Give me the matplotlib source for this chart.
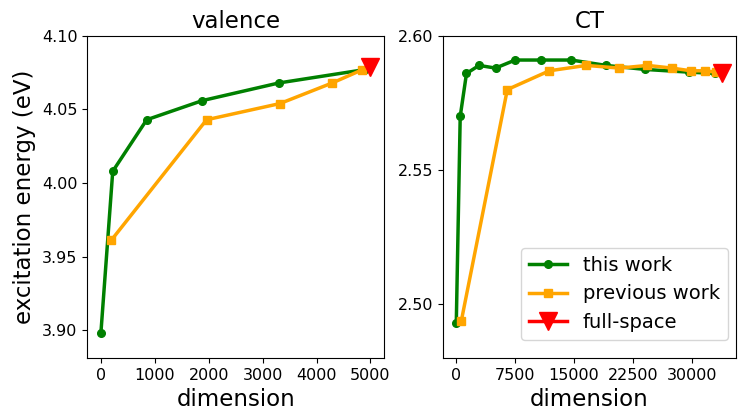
import matplotlib
matplotlib.use("Agg")
import matplotlib.pyplot as plt

# valence
val_this_x = [0, 220, 850, 1880, 3300, 4880]
val_this_y = [3.898, 4.008, 4.043, 4.056, 4.068, 4.077]
val_prev_x = [190, 1960, 3320, 4290, 4850]
val_prev_y = [3.961, 4.043, 4.054, 4.068, 4.077]
val_full_x = [5000]
val_full_y = [4.079]

# CT
ct_this_x = [0, 500, 1300, 2900, 5000, 7500, 10800, 14650, 19080, 24040, 29600, 33000]
ct_this_y = [2.493, 2.570, 2.586, 2.589, 2.588, 2.591, 2.591, 2.591, 2.589, 2.5875, 2.5865, 2.586]
ct_prev_x = [650, 6500, 11850, 16560, 20760, 24350, 27480, 29850, 31700, 33050]
ct_prev_y = [2.494, 2.580, 2.587, 2.589, 2.588, 2.589, 2.588, 2.587, 2.587, 2.5865]
ct_full_x = [33900]
ct_full_y = [2.586]

fig = plt.figure(figsize=(7.47, 4.17), dpi=100)
ax1 = fig.add_axes([0.117, 0.141, 0.397, 0.773])
ax2 = fig.add_axes([0.593, 0.141, 0.392, 0.773])

lw = 2.5
for ax, tx, ty, px, py, fx, fy in [
    (ax1, val_this_x, val_this_y, val_prev_x, val_prev_y, val_full_x, val_full_y),
    (ax2, ct_this_x, ct_this_y, ct_prev_x, ct_prev_y, ct_full_x, ct_full_y),
]:
    ax.plot(tx, ty, color="green", marker="o", ms=5.5, lw=lw, label="this work")
    ax.plot(px, py, color="orange", marker="s", ms=6, lw=lw, label="previous work")
    ax.plot(fx, fy, color="red", marker="v", ms=13, lw=lw, label="full-space")
    ax.tick_params(labelsize=11.5)
    ax.set_xlabel("dimension", fontsize=16.5)

ax1.set_ylim(3.881, 4.10)
ax1.set_yticks([3.90, 3.95, 4.00, 4.05, 4.10])
ax1.set_xticks([0, 1000, 2000, 3000, 4000, 5000])
ax1.set_title("valence", fontsize=16.5)
ax1.set_ylabel("excitation energy (eV)", fontsize=16.5)

ax2.set_ylim(2.48, 2.60)
ax2.set_yticks([2.50, 2.55, 2.60])
ax2.set_xticks([0, 7500, 15000, 22500, 30000])
ax2.set_title("CT", fontsize=16.5)
ax2.legend(loc="lower right", fontsize=14, bbox_to_anchor=(0.973, 0.057),
           borderaxespad=0)

fig.savefig("out.png", dpi=100)
